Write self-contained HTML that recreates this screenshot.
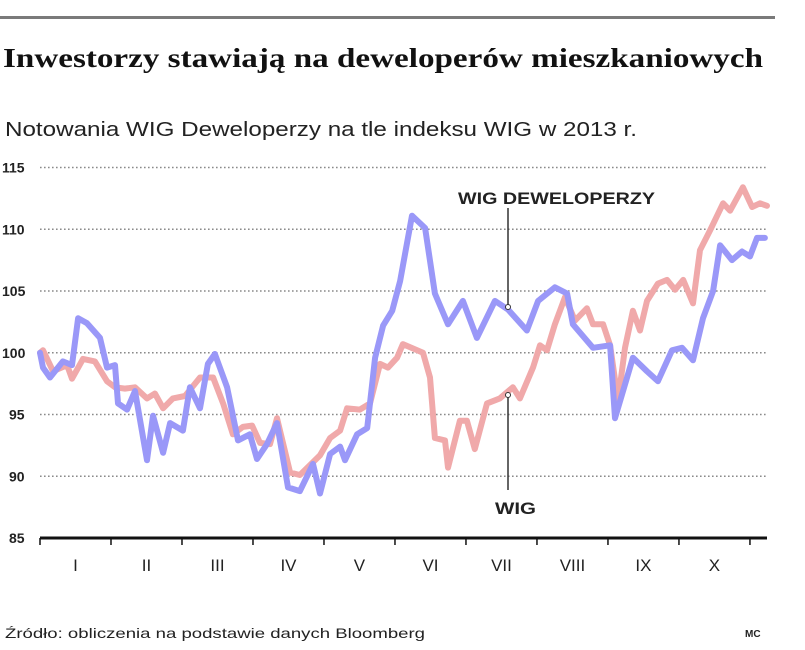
<!DOCTYPE html>
<html><head><meta charset="utf-8"><style>
html,body{margin:0;padding:0;background:#fff;}
svg{display:block;font-family:"Liberation Sans",sans-serif;}
</style></head><body>
<svg id="chart" width="805" height="650" viewBox="0 0 805 650">
<rect x="0" y="16" width="775" height="3" fill="#7a7a7a"/>
<text x="3" y="67" font-family="Liberation Serif, serif" font-weight="bold" font-size="27" textLength="760" lengthAdjust="spacingAndGlyphs" fill="#111">Inwestorzy stawiają na deweloperów mieszkaniowych</text>
<text x="5" y="136" font-size="20" textLength="632" lengthAdjust="spacingAndGlyphs" fill="#222">Notowania WIG Deweloperzy na tle indeksu WIG w 2013 r.</text>
<g id="grid"></g>
<g id="series"></g>
<g id="axes"></g>
<line x1="508" y1="208" x2="508" y2="305" stroke="#333" stroke-width="1.5"/>
<circle cx="508" cy="307" r="2.5" fill="#fff" stroke="#333"/>
<text x="458" y="204" font-size="17" font-weight="bold" fill="#222" textLength="197" lengthAdjust="spacingAndGlyphs">WIG DEWELOPERZY</text>
<line x1="508" y1="397" x2="508" y2="490" stroke="#333" stroke-width="1.5"/>
<circle cx="508" cy="395" r="2.5" fill="#fff" stroke="#333"/>
<text x="495" y="514" font-size="17" font-weight="bold" fill="#222" textLength="41" lengthAdjust="spacingAndGlyphs">WIG</text>
<text x="5" y="638" font-size="14" fill="#222" textLength="420" lengthAdjust="spacingAndGlyphs">Źródło: obliczenia na podstawie danych Bloomberg</text>
<text x="745" y="637" font-size="10" font-weight="bold" fill="#222">MC</text>
</svg>
<script>
const yTicks = [85, 90, 95, 100, 105, 110, 115];
const months = ["I","II","III","IV","V","VI","VII","VIII","IX","X"];
const devDays = [0,1.3,4.3,9.8,13.7,16.3,20.1,25.7,28.7,32.1,33.4,37.3,40.7,45.8,48.4,52.7,55.7,61.2,64.2,68.5,71.9,74.9,80.1,84.8,89.9,92.9,97.2,101.5,106.2,111.3,116.9,119.9,124.2,128.5,130.6,135.8,140.1,143.5,146.9,150.8,154.2,159.3,164.9,169.1,174.7,181.1,187.1,194.8,200.4,208.5,213.3,220.5,225.7,228.2,236.8,244.1,246.2,253.9,259.9,264.6,270.6,274.9,279.6,283.9,288.2,291.2,296.3,300.6,304,307,310.4];
const devValues = [100,98.8,98,99.3,99,102.8,102.4,101.2,98.8,99,95.9,95.4,96.9,91.3,94.9,91.9,94.3,93.7,97.2,95.5,99.1,99.9,97.2,92.9,93.4,91.4,92.6,94.3,89.1,88.8,91,88.6,91.8,92.4,91.3,93.4,93.9,99.6,102.2,103.4,105.8,111.1,110.1,104.8,102.3,104.2,101.2,104.2,103.5,101.8,104.2,105.3,104.8,102.3,100.4,100.6,94.7,99.6,98.5,97.7,100.2,100.4,99.4,102.8,105,108.7,107.5,108.2,107.8,109.3,109.3];
const wigDays = [0,1.3,5.6,11.6,13.7,18.4,23.5,28.7,32.1,36.4,40.7,45.8,49.2,52.7,56.9,62.1,68.5,74.1,78.4,82.6,86.9,90.8,94.2,98.5,101.5,107.1,111.3,119.9,124.2,128.5,131.5,137.0,141.3,145.6,149.0,152.9,155.4,164.0,167.0,169.1,173.4,174.7,179.8,182.8,186.2,191.4,196.9,202.5,205.5,211.1,214.1,217.1,220.5,224.8,229.1,234.2,236.8,241.1,244.1,247.5,250.5,253.9,256.9,259.9,264.6,268.5,271.9,275.4,279.6,282.6,286.9,292.5,295.5,301.0,304.9,308.3,311.3];
const wigValues = [100,100.2,98.5,99,97.9,99.5,99.3,97.7,97.2,97.1,97.2,96.3,96.7,95.5,96.3,96.5,98,98,95.9,93.4,94,94.1,92.7,92.6,94.7,90.3,90.1,91.7,93.1,93.7,95.5,95.4,95.9,99.1,98.8,99.6,100.7,100,98,93.1,92.9,90.7,94.5,94.5,92.2,95.9,96.3,97.2,96.3,98.8,100.6,100.2,102.3,104.5,102.6,103.6,102.3,102.3,100.6,96.1,100.4,103.4,101.8,104.2,105.6,105.9,105.1,105.9,104,108.3,109.9,112.1,111.5,113.4,111.8,112.1,111.9];

const NS = "http://www.w3.org/2000/svg";
const X0 = 40, X1 = 767, D1 = 311.3, Y85 = 538, PXU = 12.35, MONTH_DAYS = 30.4;
const xS = d => X0 + d / D1 * (X1 - X0);
const yS = v => Y85 - (v - 85) * PXU;
function mk(tag, attrs, parent) {
  const e = document.createElementNS(NS, tag);
  for (const k in attrs) e.setAttribute(k, attrs[k]);
  parent.appendChild(e);
  return e;
}
const grid = document.getElementById("grid");
const axes = document.getElementById("axes");
const series = document.getElementById("series");
yTicks.forEach(v => {
  if (v > 85) {
    const l = mk("line", {x1: X0, x2: 766, y1: yS(v), y2: yS(v), stroke: "#8a8a8a", "stroke-width": 1.6, "stroke-dasharray": "1.6 2.4"}, grid);
    
    
  }
  const t = mk("text", {x: v >= 100 ? 2 : 9, y: yS(v) + 5, "font-size": 14, "font-weight": "bold", fill: "#222"}, axes);
  t.textContent = v;
  
  
});
const ax = mk("line", {x1: X0, x2: 767, y1: Y85, y2: Y85, stroke: "#111", "stroke-width": 3}, axes);


for (let i = 0; i <= months.length; i++) {
  const x = xS(i * MONTH_DAYS);
  if (x > X1) break;
  const tk = mk("line", {x1: x, x2: x, y1: Y85, y2: Y85 + 7, stroke: "#111", "stroke-width": 1.5}, axes);
  
  
}
months.forEach((m, i) => {
  const t = mk("text", {x: xS((i + 0.5) * MONTH_DAYS), y: 571, "font-size": 17, fill: "#222", "text-anchor": "middle"}, axes);
  t.textContent = m;
  
  
});
function path(days, vals) {
  const n = Math.min(days.length, vals.length);
  let d = "";
  for (let i = 0; i < n; i++) d += (i ? "L" : "M") + xS(days[i]).toFixed(1) + "," + yS(vals[i]).toFixed(1);
  return d;
}
const pw = mk("path", {d: path(wigDays, wigValues), fill: "none", stroke: "#f0a9aa", "stroke-width": 6, "stroke-linejoin": "round", "stroke-linecap": "round"}, series);


const pd = mk("path", {d: path(devDays, devValues), fill: "none", stroke: "#9a98f8", "stroke-width": 6, "stroke-linejoin": "round", "stroke-linecap": "round"}, series);


</script>
</body></html>
